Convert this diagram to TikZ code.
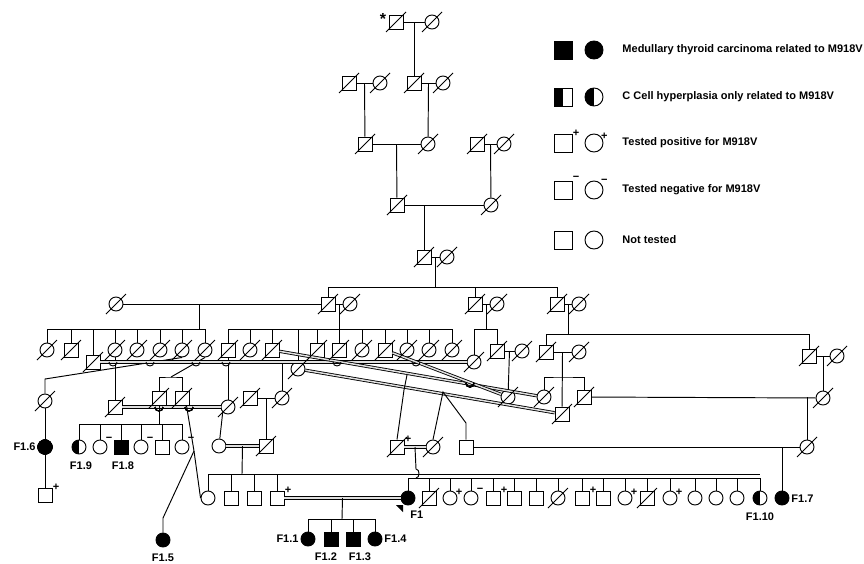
\documentclass[tikz,border=0pt]{standalone}
\usepackage{fontspec}
\setmainfont{Liberation Sans}
\tikzset{
  sq/.style={draw, rectangle, minimum size=14pt, inner sep=0pt, fill=white},
  ci/.style={draw, circle, minimum size=14pt, inner sep=0pt, fill=white},
  lsq/.style={sq, minimum size=18pt},
  lci/.style={ci, minimum size=18pt},
  aff/.style={fill=black},
  half/.style={path picture={\fill[black] (path picture bounding box.south west) rectangle (path picture bounding box.north);}},
  pm/.style={font=\bfseries\fontsize{11}{11}\selectfont, inner sep=0pt, anchor=west},
  tpos/.style={label={[pm]north east:+}},
  tneg/.style={label={[pm, yshift=2pt]north east:−}},
  dbl/.style={double=gray!25, double distance=1.5pt, line width=0.85pt},
  lbl/.style={font=\bfseries\fontsize{11}{12}\selectfont, inner sep=1pt},
  txt/.style={font=\bfseries\fontsize{11}{12}\selectfont, anchor=west, inner sep=0pt},
}
\newcommand\deceased[1]{\foreach \n in {#1}{\draw (\n.center) ++(-10,10) -- ++(20,-20);}}
\newcommand\hop[1]{\draw (#1) ++(-4,0) .. controls +(0,5.3) and +(0,5.3) .. ++(8,0);}
\begin{document}
\begin{tikzpicture}[x=1pt, y=-1pt, line width=0.95pt]
  \useasboundingbox (0,0) rectangle (864,563);
  % generations I to V
  \node[sq] (i1) at (396,22) {};
  \node[ci] (i2) at (432,22) {};
  \node[font=\bfseries\fontsize{16}{16}\selectfont, inner sep=0pt] (star) at (383,19) {*};
  \node[sq] (ii1) at (349,83) {};
  \node[ci] (ii2) at (380,83) {};
  \node[sq] (ii3) at (414,83) {};
  \node[ci] (ii4) at (443,83) {};
  \node[sq] (iii1) at (365,144) {};
  \node[ci] (iii2) at (428,144) {};
  \node[sq] (iii3) at (477,144) {};
  \node[ci] (iii4) at (504,144) {};
  \node[sq] (iv1) at (397,205) {};
  \node[ci] (iv2) at (491,205) {};
  \node[sq] (v1) at (424,257) {};
  \node[ci] (v2) at (447,257) {};
  \draw (i1) -- (i2) coordinate[midway] (mi);
  \draw (mi) -- (ii3);
  \draw (ii1) -- (ii2) coordinate[midway] (mii1);
  \draw (mii1) -- (iii1);
  \draw (ii3) -- (ii4) coordinate[midway] (mii2);
  \draw (mii2) -- (iii2);
  \draw (iii1) -- (iii2) coordinate[midway] (miii1);
  \draw (miii1) -- (iv1);
  \draw (iii3) -- (iii4) coordinate[midway] (miii2);
  \draw (miii2) -- (iv2);
  \draw (iv1) -- (iv2);
  \draw (v1 |- iv1) -- (v1);
  \draw (v1) -- (v2) coordinate[midway] (mv);
  % generation VI
  \node[ci] (a1) at (116,304) {};
  \node[sq] (a2) at (328,304) {};
  \node[ci] (a3) at (350,304) {};
  \node[sq] (b1) at (475,304) {};
  \node[ci] (b2) at (497,304) {};
  \node[sq] (c1) at (557,304) {};
  \node[ci] (c2) at (579,304) {};
  \coordinate (sb0) at (435.5,287);
  \draw (mv) -- (sb0);
  \draw (a2 |- sb0) -- (c1 |- sb0);
  \foreach \c in {a2,b1,c1} \draw (\c) -- (\c |- sb0);
  \draw (a1) -- (a2);
  \draw (a2) -- (a3) coordinate[midway] (ma2);
  \draw (b1) -- (b2) coordinate[midway] (mb);
  \draw (c1) -- (c2) coordinate[midway] (mc);
  % generation VII
  \foreach \n/\x/\t in {s1a/47/ci,s1b/71/sq,s1d/115/ci,s1e/137/ci,s1f/160/ci,s1g/182/ci,s1h/205/ci,
      s2a/228/sq,s2b/250/ci,s2c/272/sq,s2e/317/sq,s2f/339/sq,s2g/362/ci,s2h/385/sq,s2i/407/ci,s2j/429/ci,s2k/452/ci}
    \node[\t] (\n) at (\x,350) {};
  \node[sq] (s1c) at (93,362) {};
  \node[ci] (s2d) at (298,369) {};
  \node[ci] (s3a) at (474,362) {};
  \node[sq] (s3b) at (497,351) {};
  \node[ci] (s3c) at (522,351) {};
  \node[sq] (s4a) at (546,352) {};
  \node[ci] (s4b) at (579,352) {};
  \node[sq] (s4c) at (809,356) {};
  \node[ci] (s4d) at (837,356) {};
  \coordinate (sb1) at (199,329);
  \draw (199,304) -- (sb1);
  \draw (s1a |- sb1) -- (s1h |- sb1);
  \foreach \c in {s1a,s1b,s1c,s1d,s1e,s1f,s1g,s1h} \draw (\c) -- (\c |- sb1);
  \coordinate (sb2) at (339,329);
  \draw (ma2) -- (sb2);
  \draw (s2a |- sb2) -- (s2k |- sb2);
  \foreach \c in {s2a,s2b,s2c,s2d,s2e,s2f,s2g,s2h,s2i,s2j,s2k} \draw (\c) -- (\c |- sb2);
  \coordinate (sb3) at (486,329);
  \draw (mb) -- (sb3);
  \draw (s3a |- sb3) -- (s3b |- sb3);
  \foreach \c in {s3a,s3b} \draw (\c) -- (\c |- sb3);
  \coordinate (sb4) at (568,334);
  \draw (mc) -- (sb4);
  \draw (s4a |- sb4) -- (s4c |- sb4);
  \foreach \c in {s4a,s4c} \draw (\c) -- (\c |- sb4);
  \draw (s3b) -- (s3c) coordinate[midway] (ms3);
  \draw (s4a) -- (s4b) coordinate[midway] (ms4);
  \draw (s4c) -- (s4d) coordinate[midway] (ms5);
  % generation VIII
  \node[sq] (t1) at (115,407) {};
  \node[ci] (t2) at (228,407) {};
  \node[sq] (t3) at (159,398) {};
  \node[sq] (t4) at (182,398) {};
  \node[ci] (t5) at (45,401) {};
  \node[sq] (u1) at (250,398) {};
  \node[ci] (u2) at (282,398) {};
  \node[ci] (k1) at (544,397) {};
  \node[sq] (k2) at (562,414) {};
  \node[sq] (k3) at (584,397) {};
  \node[ci] (k4) at (508,397) {};
  \node[ci] (k5) at (823,398) {};
  \draw (s1d) -- (t1);
  \draw (s2a) -- (t2);
  \draw[dbl] (t1) -- (t2);
  \coordinate (bt) at (171,377);
  \draw (t3.north) |- (bt) -| (t4.north);
  \draw (bt) -- (s1h.south);
  \draw (s1g.south) -- (45,379) -- (t5);
  \draw (u1) -- (u2) coordinate[midway] (mu);
  \draw (u2) -- (u2 |- s1c);
  \draw (ms3) -- (k4);
  \draw (ms4) -- (k2);
  \coordinate (sb5) at (562,377);
  \draw (k1.north) |- (sb5) -| (k3.north);
  \draw (ms5) -- (k5);
  \draw (k3) -- (k5);
  % consanguineous lines
  \draw[dbl] (s1c) -- (s3a);
  \draw[dbl] (s2c) -- (k1);
  \draw[dbl] (s2d) -- (k2);
  \draw[dbl] (s2h) -- (k4);
  \foreach \x in {113,150,196,226,337,416} \hop{\x,362}
  \foreach \x in {159,189} \hop{\x,407}
  \hop{470,383}
  % generation IX
  \node[ci, aff] (f16) at (45,447) {};
  \node[sq, tpos] (t6) at (45,495) {};
  \draw (t5) -- (f16);
  \draw (f16) -- (t6);
  \node[ci] (w1) at (219,446) {};
  \node[sq] (u3) at (266,446) {};
  \draw (t2.225) -- (w1);
  \draw (mu) -- (u3);
  \draw[dbl] (w1) -- (u3) coordinate[midway] (mw);
  \foreach \n/\x/\s in {g1/79/half,g2/100/tneg,g4/141/tneg,g6/182/tneg}
    \node[ci, \s] (\n) at (\x,447) {};
  \node[sq, aff] (g3) at (121,447) {};
  \node[sq] (g5) at (162,447) {};
  \coordinate (sb6) at (159,424);
  \draw (t3) -- (sb6);
  \draw (g1 |- sb6) -- (g6 |- sb6);
  \foreach \c in {g1,g2,g3,g4,g5,g6} \draw (\c) -- (\c |- sb6);
  \node[sq, tpos] (p1) at (397,447) {};
  \node[ci] (p2) at (433,447) {};
  \node[sq] (q1) at (466,447) {};
  \node[ci] (r1) at (807,447) {};
  \draw[dbl] (p1) -- (p2) coordinate[midway] (mp);
  \draw (p1.north) -- (404,390) -- (407,375);
  \coordinate (jq) at (443,392);
  \draw (p2.north) -- (jq) -- (466,423) -- (q1.north);
  \draw (k3 -| r1) -- (r1);
  \draw (q1) -- (r1);
  % generation X
  \node[ci, aff] (f15) at (163,540) {};
  \coordinate (jf) at (194,451);
  \foreach \n/\x/\t in {x1/208/ci,x2/231/sq,x3/254/sq}
    \node[\t] (\n) at (\x,498) {};
  \node[sq, tpos] (x4) at (277,498) {};
  \node[ci, aff] (f1) at (408,498) {};
  \draw (t4.south east) ++(-3,0) -- (jf) -- (x1.west);
  \draw (jf) -- (163,518) -- (f15);
  \coordinate (sb7) at (242,474);
  \draw (mw) -- (sb7);
  \draw (x1 |- sb7) -- (760,474);
  \foreach \c in {x1,x2,x3,x4} \draw (\c) -- (\c |- sb7);
  \draw[dbl] (x4) -- (f1) coordinate[midway] (mf);
  \foreach \n/\x/\t/\s in {o1/429/sq/sq,o2/450/ci/tpos,o3/471/ci/tneg,o4/493/sq/tpos,o5/514/sq/sq,o6/536/sq/sq,
      o7/558/ci/ci,o8/582/sq/tpos,o9/603/sq/sq,o10/625/ci/tpos,o11/647/sq/sq,o12/670/ci/tpos,o13/695/ci/ci,
      o14/716/ci/ci,o15/737/ci/ci,f110/760/ci/half}
    \node[\t, \s] (\n) at (\x,498) {};
  \node[ci, aff] (f17) at (782,498) {};
  \coordinate (sb8) at (416,478);
  \draw (mp) -- (416,469) .. controls (420,469) and (420,478) .. (sb8);
  \draw (f1 |- sb8) -- (f110 |- sb8);
  \foreach \c in {f1,o1,o2,o3,o4,o5,o6,o7,o8,o9,o10,o11,o12,o13,o14,o15,f110} \draw (\c) -- (\c |- sb8);
  \draw (f17 |- q1) -- (f17);
  % children of F1
  \foreach \n/\x/\t in {f11/308/ci,f12/331/sq,f13/353/sq,f14/375/ci}
    \node[\t, aff] (\n) at (\x,539) {};
  \coordinate (sb9) at (342,519);
  \draw (mf) -- (sb9);
  \draw (f11 |- sb9) -- (f14 |- sb9);
  \foreach \c in {f11,f12,f13,f14} \draw (\c) -- (\c |- sb9);
  % deceased
  \deceased{i1,i2,ii1,ii2,ii3,ii4,iii1,iii2,iii3,iii4,iv1,iv2,v1,v2,a1,a2,a3,b1,b2,c1,c2}
  \deceased{s1a,s1b,s1c,s1d,s1e,s1f,s1g,s1h,s2a,s2b,s2c,s2d,s2e,s2f,s2g,s2h,s2i,s2j,s2k}
  \deceased{s3a,s3b,s3c,s4a,s4b,s4c,s4d,t1,t2,t3,t4,t5,u1,u2,u3,k1,k2,k3,k4,k5,r1,p1,p2,o1,o7,o11}
  % labels
  \node[lbl, anchor=east] (lf16) at (37,447) {F1.6};
  \node[lbl] (lf19) at (81,466) {F1.9};
  \node[lbl] (lf18) at (123,466) {F1.8};
  \node[lbl] (lf15) at (163,558) {F1.5};
  \node[lbl, anchor=east] (lf11) at (300,539) {F1.1};
  \node[lbl] (lf12) at (326,557) {F1.2};
  \node[lbl] (lf13) at (360,557) {F1.3};
  \node[lbl, anchor=west] (lf14) at (383,539) {F1.4};
  \node[lbl, anchor=west] (lf1) at (409,515) {F1};
  \fill (396,505) -- (403,505) -- (403,512) -- cycle;
  \node[lbl] (lf110) at (760,517) {F1.10};
  \node[lbl, anchor=west] (lf17) at (790,499) {F1.7};
  % Legend
  \node[lsq, aff] (ls1) at (563,50) {};
  \node[lci, aff] (lc1) at (594,50) {};
  \node[txt] (lt1) at (622,50) {Medullary thyroid carcinoma related to M918V};
  \node[lsq, half] (ls2) at (563,97) {};
  \node[lci, half] (lc2) at (594,97) {};
  \node[txt] (lt2) at (622,97) {C Cell hyperplasia only related to M918V};
  \node[lsq, tpos] (ls3) at (563,143) {};
  \node[lci, tpos] (lc3) at (594,143) {};
  \node[txt] (lt3) at (622,143) {Tested positive for M918V};
  \node[lsq, tneg] (ls4) at (563,190) {};
  \node[lci, tneg] (lc4) at (594,190) {};
  \node[txt] (lt4) at (622,190) {Tested negative for M918V};
  \node[lsq] (ls5) at (563,240) {};
  \node[lci] (lc5) at (594,240) {};
  \node[txt] (lt5) at (622,240) {Not tested};
\end{tikzpicture}
\end{document}
